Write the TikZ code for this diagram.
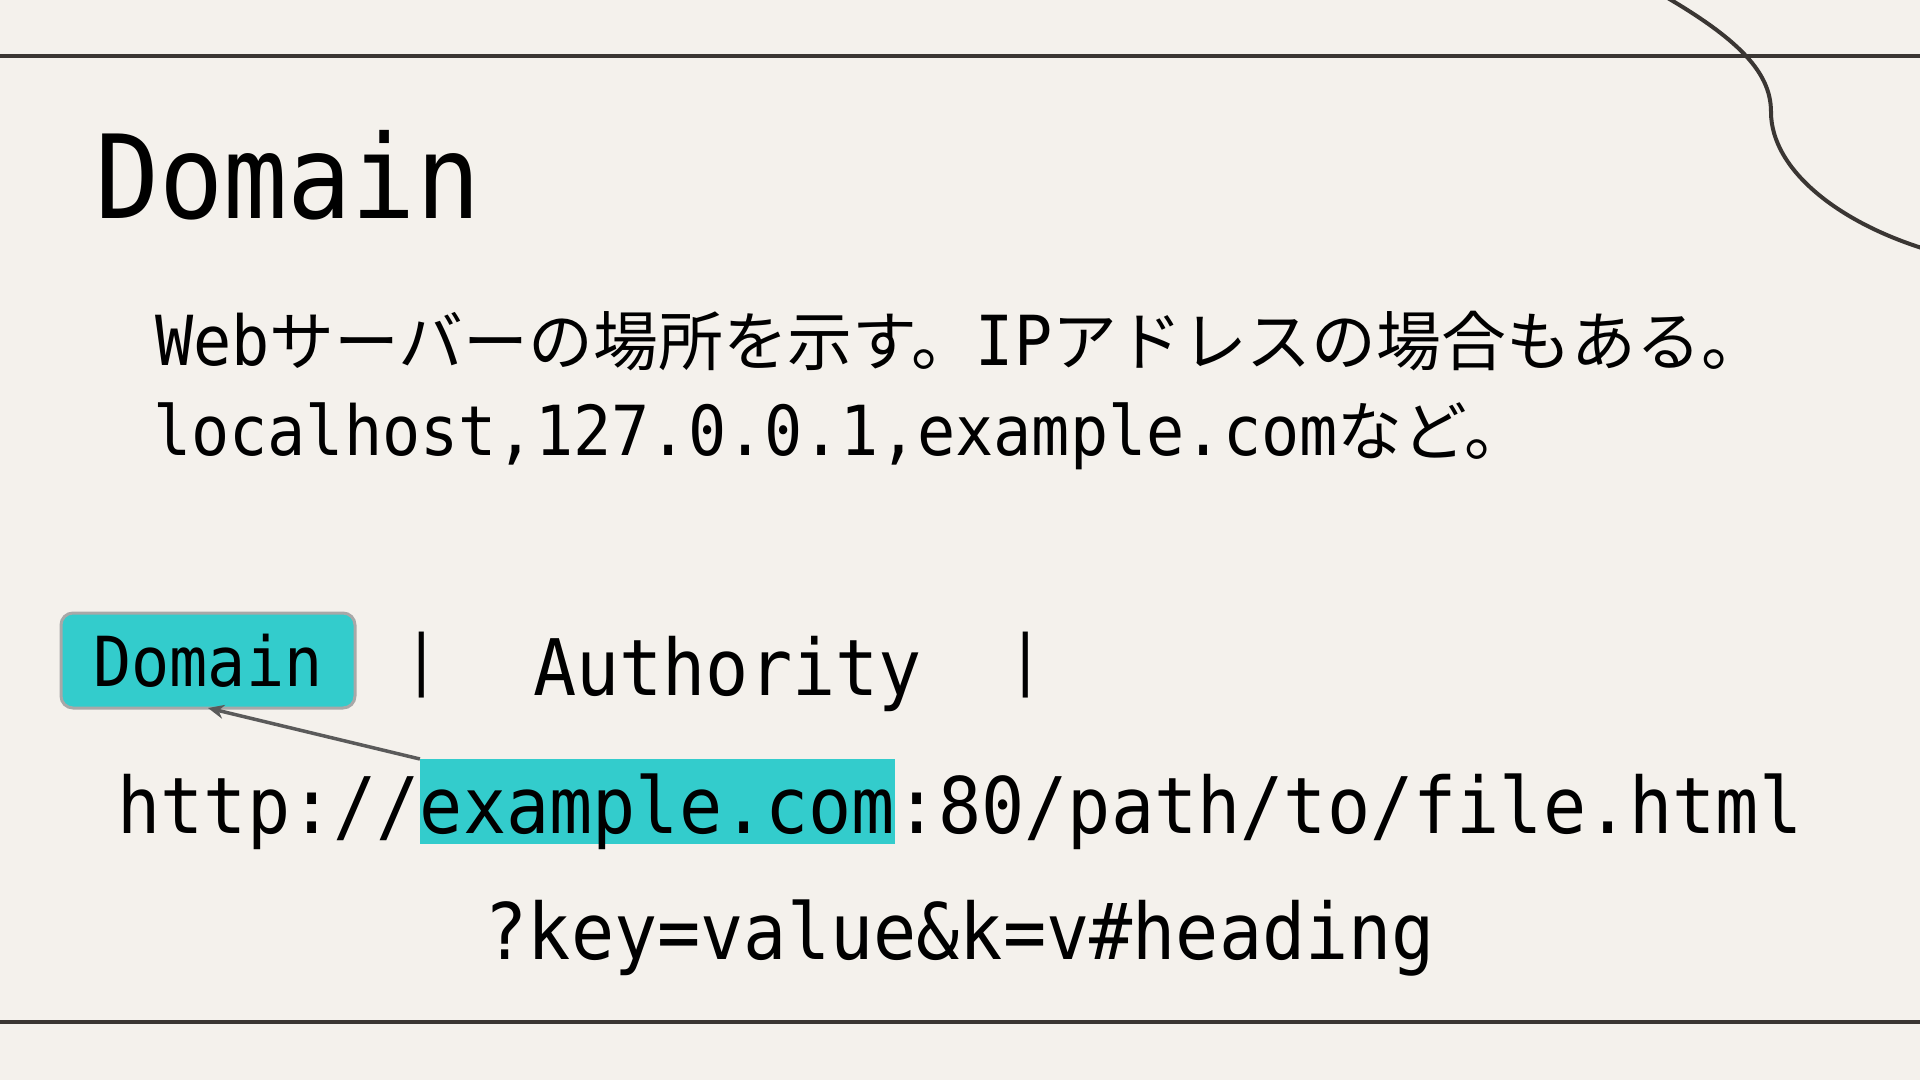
\documentclass[tikz,border=0pt]{standalone}
\usepackage{fontspec}
\usetikzlibrary{arrows.meta}
\newfontfamily\mono[FakeStretch=0.92]{DejaVu Sans Mono}
\newfontfamily\cjk[Scale=0.94]{Noto Sans CJK JP}
\definecolor{bgcol}{HTML}{F4F1EC}
\definecolor{ink}{HTML}{3A3633}
\definecolor{hlteal}{HTML}{33CCCC}
\definecolor{boxedge}{HTML}{A8A8A8}
\definecolor{arrowgray}{HTML}{5A5A5A}
\begin{document}
\begin{tikzpicture}[x=1pt,y=-1pt,
  txt/.style={inner sep=0pt, outer sep=0pt, text=black},
  titlefont/.style={font={\mono\fontsize{116}{130}\selectfont}},
  bodyfont/.style={font={\mono\fontsize{69}{80}\selectfont}},
  urlfont/.style={font={\mono\fontsize{78}{90}\selectfont}},
  barfont/.style={font={\mono\fontsize{66}{76}\selectfont}},
  rule/.style={draw=ink, line width=4.5pt},
  deco/.style={draw=ink, line width=4pt},
  tagbox/.style={txt, bodyfont, fill=hlteal, draw=boxedge, line width=3pt,
                 rounded corners=12pt, minimum width=294pt, minimum height=95pt},
  highlight/.style={txt, urlfont, fill=hlteal, text height=74pt, text depth=11pt},
  pointer/.style={draw=arrowgray, line width=3.5pt, -{Stealth[length=16pt,width=14pt]}}
]
\useasboundingbox (0,0) rectangle (1920,1080);
\fill[bgcol] (0,0) rectangle (1920,1080);

% decorative rules and curve
\draw[rule] (0,56) -- (1920,56);
\draw[rule] (0,1022) -- (1920,1022);
\begin{scope}
  \clip (0,0) rectangle (1920,1080);
  \draw[deco] (1645,-15) .. controls (1735,35) and (1771,70) .. (1771,112)
              .. controls (1771,170) and (1840,225) .. (1935,252);
\end{scope}

% title
\node[txt, titlefont, anchor=base west] (title) at (95,218) {Domain};

% description
\node[txt, bodyfont, anchor=base west] (line1) at (155,365)
  {Web{\cjk サーバーの場所を示す。}IP{\cjk アドレスの場合もある。}};
\node[txt, bodyfont, anchor=base west] (line2) at (153,455)
  {localhost,127.0.0.1,example.com{\cjk など。}};

% header row
\node[tagbox] (dbox) at (208,660.5) {Domain};
\node[txt, barfont, anchor=base] (bar1) at (422,682) {|};
\node[txt, urlfont, anchor=base west] (auth) at (533,695) {Authority};
\node[txt, barfont, anchor=base] (bar2) at (1026,682) {|};

% URL
\node[txt, urlfont, anchor=base west] (u1) at (117.5,833) {http://};
\node[highlight, anchor=base west] (dom) at (u1.base east) {example.com};
\node[txt, urlfont, anchor=base west] (u3) at (dom.base east) {:80/path/to/file.html};
\node[txt, urlfont, anchor=base] (query) at (960,959) {?key=value\&k=v\#heading};

% pointer
\draw[pointer] (dom.north west) -- (dbox.south);
\end{tikzpicture}
\end{document}
